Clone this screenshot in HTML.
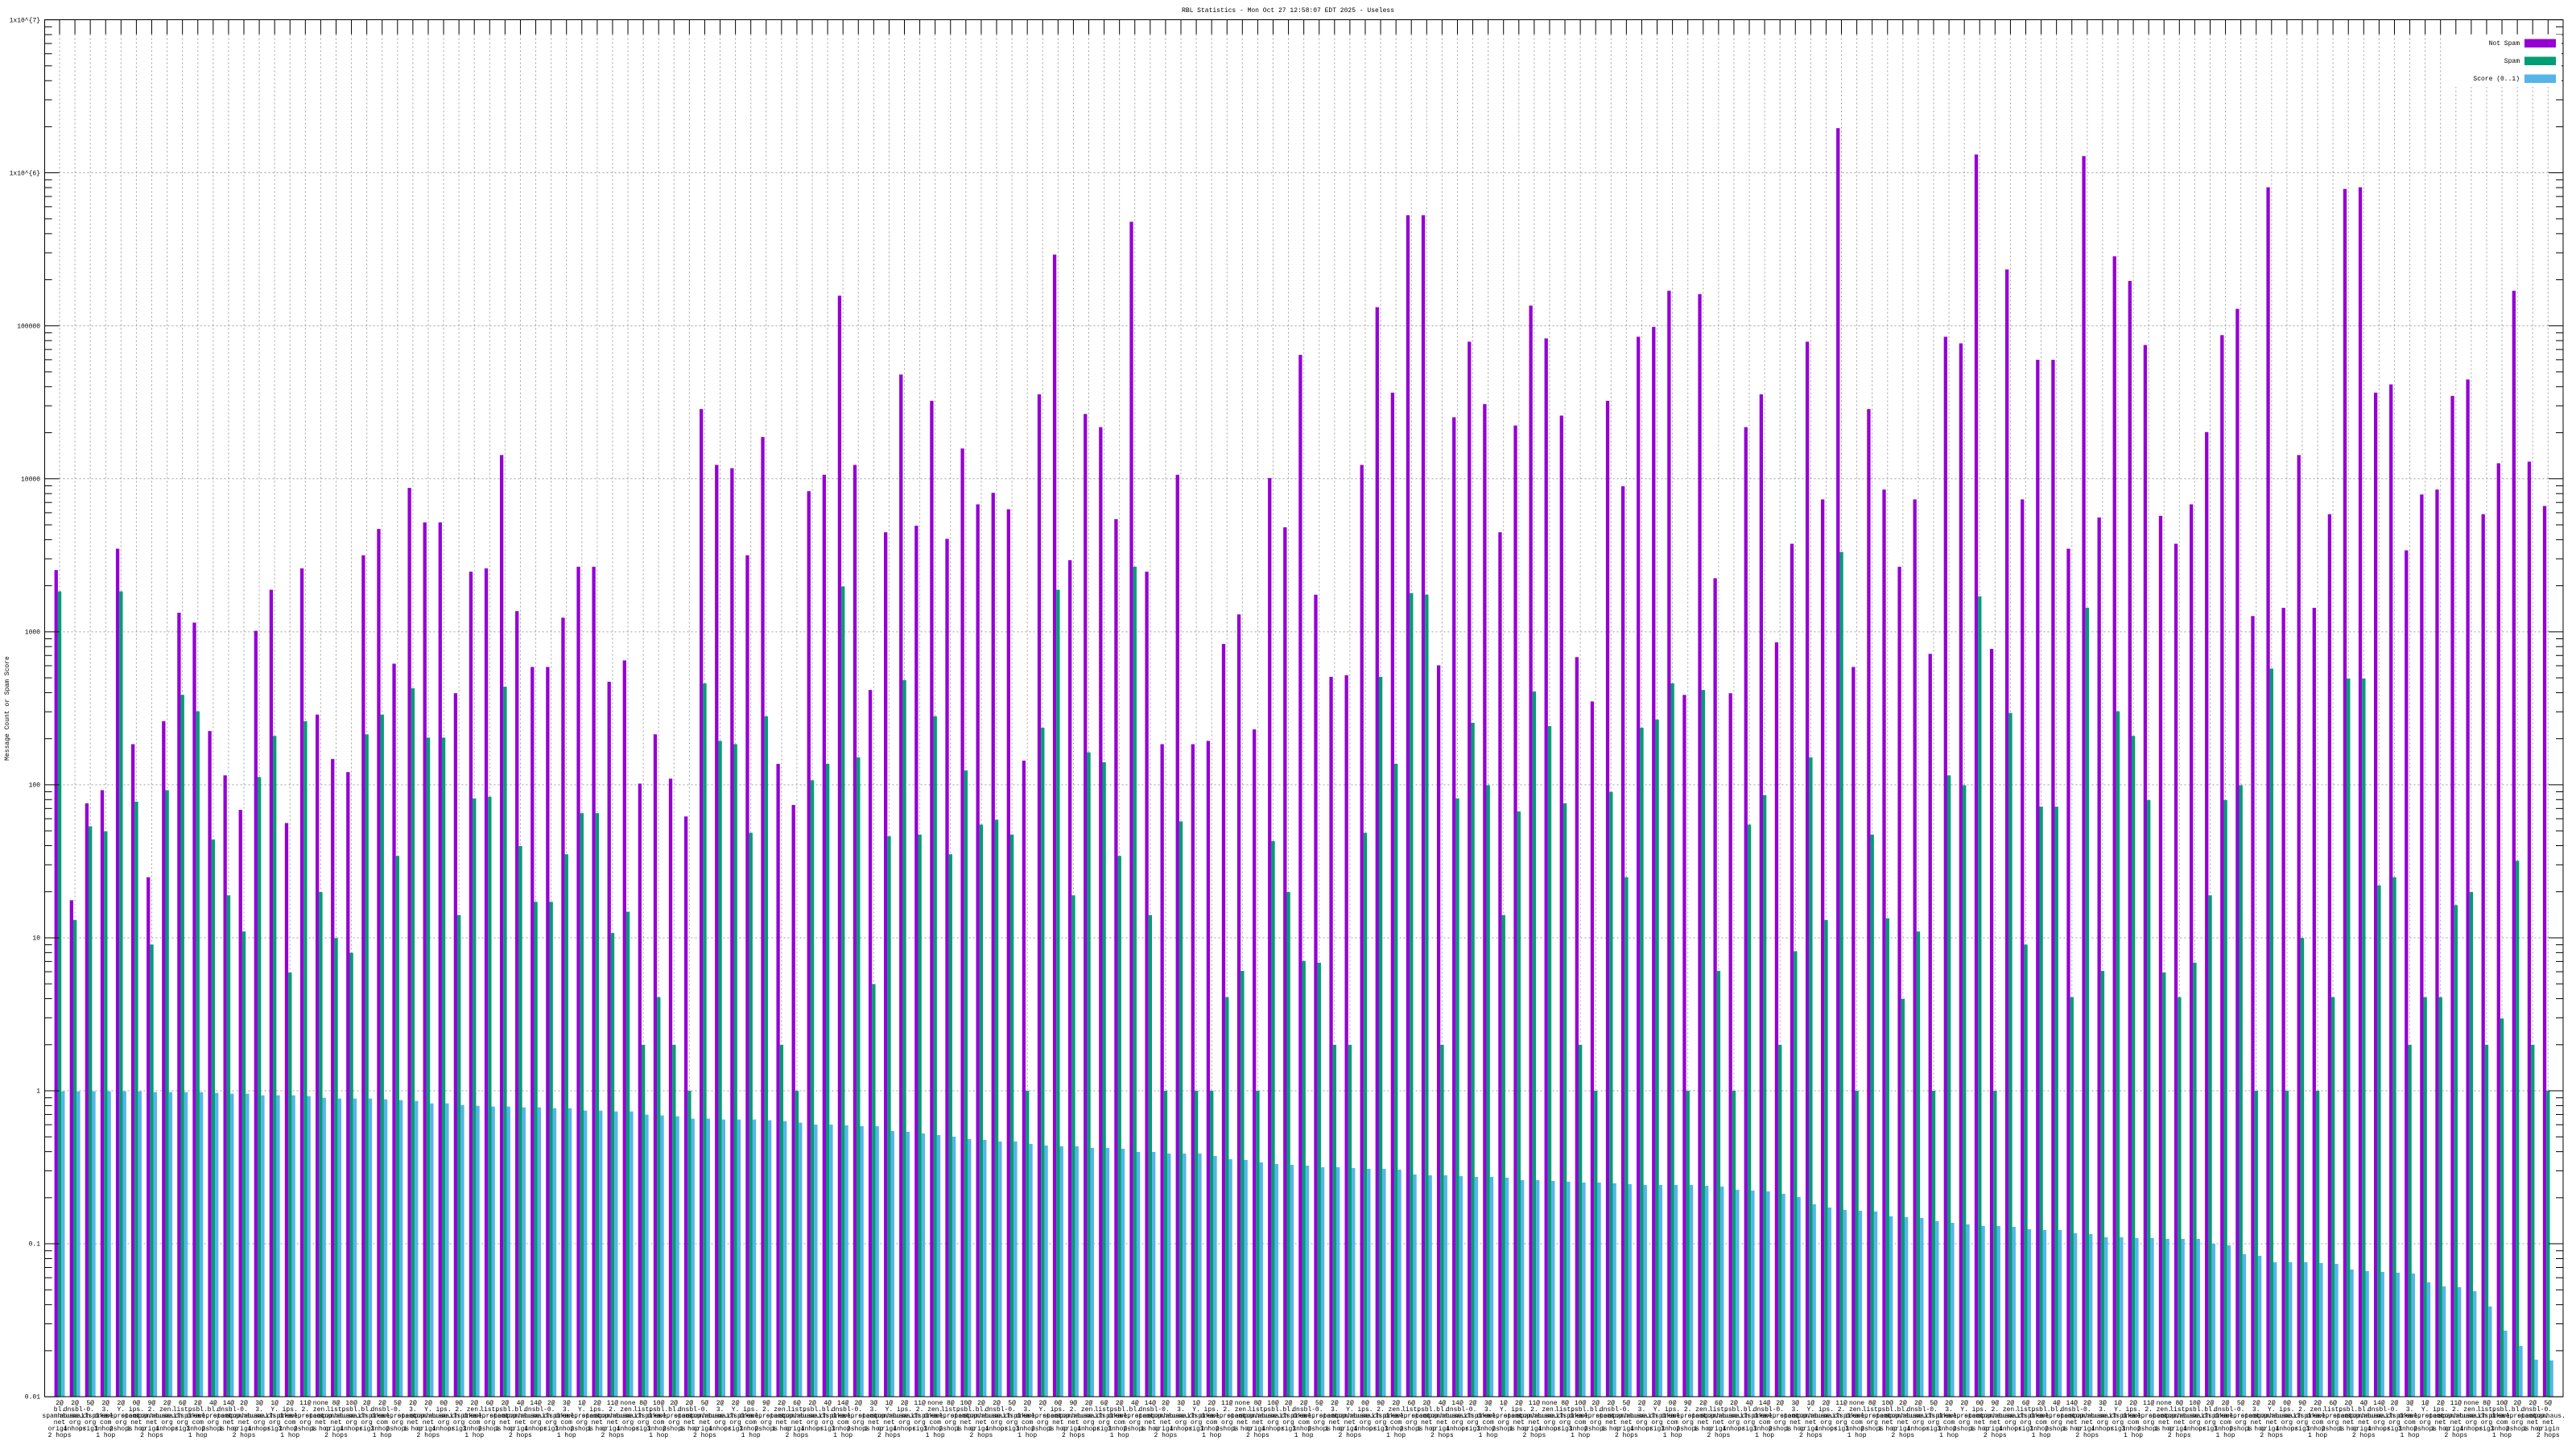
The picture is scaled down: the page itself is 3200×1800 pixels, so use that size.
<!DOCTYPE html>
<html><head><meta charset="utf-8"><style>
html,body{margin:0;padding:0;background:#fff;}
svg{display:block;}
text{font-family:"Liberation Mono","DejaVu Sans Mono",monospace;font-size:8px;fill:#000;}
</style></head><body>
<svg id="s" width="3200" height="1800" viewBox="0 0 3200 1800" xmlns="http://www.w3.org/2000/svg">
<rect width="3200" height="1800" fill="#fff"/>
<g id="grid"></g>
<g id="bars"></g>
<g id="ticks"></g>
<rect x="55.5" y="24.5" width="3128.5" height="1710.5" fill="none" stroke="#000" stroke-width="1"/>
<text x="1600" y="15" text-anchor="middle">RBL Statistics - Mon Oct 27 12:58:07 EDT 2025 - Useless</text>
<g text-anchor="end">
<text x="50" y="27.5">1x10^{7}</text>
<text x="50" y="217.5">1x10^{6}</text>
<text x="50" y="407.5">100000</text>
<text x="50" y="597.5">10000</text>
<text x="50" y="787.5">1000</text>
<text x="50" y="977.5">100</text>
<text x="50" y="1167.5">10</text>
<text x="50" y="1357.5">1</text>
<text x="50" y="1547.5">0.1</text>
<text x="50" y="1737.5">0.01</text>
</g>
<text transform="translate(11,880) rotate(-90)" text-anchor="middle">Message Count or Spam Score</text>
<g id="xl"></g>
<rect x="3040" y="43" width="142" height="65" fill="#fff"/>
<g text-anchor="end">
<text x="3130" y="56">Not Spam</text>
<text x="3130" y="78">Spam</text>
<text x="3130" y="100">Score (0..1)</text>
</g>
<rect x="3136" y="48.5" width="39" height="10.5" fill="#9400d3"/>
<rect x="3136" y="70.5" width="39" height="10.5" fill="#009e73"/>
<rect x="3136" y="92.5" width="39" height="10.5" fill="#56b4e9"/>
</svg>
<script>
var NS="http://www.w3.org/2000/svg";
function el(p,t,a,txt){var e=document.createElementNS(NS,t);for(var k in a)e.setAttribute(k,a[k]);if(txt!=null)e.textContent=txt;p.appendChild(e);return e;}
var L=55.5,R=3184,T=24.5,B=1735,D=190.06;
function yv(v){return 1355-Math.log10(v)*D;}
var grid=document.getElementById('grid'),bars=document.getElementById('bars'),ticks=document.getElementById('ticks'),xl=document.getElementById('xl');
var N=163,S=19.082,X0=74;
for(var d=-1;d<=6;d++){var y=yv(Math.pow(10,d));el(grid,'line',{x1:L+18,x2:R-18,y1:y,y2:y,stroke:'#a0a0a0','stroke-dasharray':'2,3','stroke-width':1});}
for(var i=0;i<N;i++){var x=X0+S*i;el(grid,'line',{x1:x,x2:x,y1:T+18,y2:B,stroke:'#a0a0a0','stroke-dasharray':'2,3','stroke-width':1});
 el(ticks,'line',{x1:x,x2:x,y1:T,y2:T+18,stroke:'#000','stroke-width':1});}
for(var d=-2;d<=7;d++){var y=yv(Math.pow(10,d));
 el(ticks,'line',{x1:L,x2:L+18,y1:y,y2:y,stroke:'#000'});el(ticks,'line',{x1:R-18,x2:R,y1:y,y2:y,stroke:'#000'});
 if(d<7)for(var k=2;k<=9;k++){var yy=yv(Math.pow(10,d)*k);el(ticks,'line',{x1:L,x2:L+9,y1:yy,y2:yy,stroke:'#000'});el(ticks,'line',{x1:R-9,x2:R,y1:yy,y2:yy,stroke:'#000'});}}
var P=[347,548,489,481,334,453,534,439,373,379,445,472,493,384,359,501,346,435,462,470,338,322,404,297,318,318,422,348,346,277,372,406,406,376,345,345,415,402,477,447,474,497,249,283,285,338,266,465,490,299,289,180,283,420,324,228,320,244,328,273,307,300,310,463,240,155,341,252,260,316,135,348,453,289,453,451,392,374,444,291,321,216,362,412,411,283,187,239,131,131,405,254,208,246,324,259,186,206,253,400,427,244,296,205,199,177,423,179,352,422,260,240,391,331,208,304,78,406,249,298,345,304,398,205,209,94,395,164,304,219,219,334,95,315,156,171,210,314,331,307,263,204,188,375,114,370,277,370,313,115,114,239,234,335,301,298,241,231,313,282,177,281,308];
var G=[360,560,503,506,360,488,575,481,423,433,511,545,567,473,448,592,439,543,571,580,447,435,521,419,449,449,557,486,485,418,515,549,549,520,495,495,568,555,636,607,636,664,416,451,453,507,436,636,664,475,465,357,461,599,509,414,508,436,520,469,502,499,508,664,443,359,545,458,464,521,345,557,664,500,664,664,607,591,664,512,543,585,586,636,636,507,412,465,361,362,636,486,440,478,557,494,421,442,489,636,664,482,534,443,438,416,664,420,591,664,502,484,636,579,461,560,336,664,508,559,608,567,664,472,478,363,664,434,575,491,491,607,370,591,433,448,487,592,607,586,545,487,478,664,407,664,571,664,607,413,413,539,534,636,607,607,551,543,636,620,524,636,664];
var BA=[47,47,47,47,47,47,50,50,50,50,53,56,56,62,62,62,65,71,74,74,74,77,80,83,92,92,98,101,104,104,107,107,110,110,119,119,122,122,134,137,140,149,149,152,152,152,155,158,164];
var BB=[201,201,204,207,207,225,228,234,240,246,255,258,264,264,273,279,282,282,288,288,291,303,303,309,309,309,318,330,333,342,348,351,354,360,360,363,366,366,369,387,390,390,393,396,396,399,408,408,411,414,417,417,420,423,426,426,426,426,429,432,444,447,450,459,471,498,510,519,522,525,543,546,549,561,567,573,579,579,582,591,594,594,606,609,621,621,624,624,627,627,627,645,651,684];
var BC=[1560,1568,1568,1568,1569,1570,1577,1579,1580,1581,1582,1593,1598,1599,1604,1623,1653,1672,1689,1690];
var BL=[];BA.forEach(function(v){BL.push(1340+v/3);});BB.forEach(function(v){BL.push(1330+v/3);});BC.forEach(function(v){BL.push(v);});
function ds(v){return 24.5+(v-12)*2.0407;}
var bw=4.3;
var l1=["2@","2@","9@","2@","2@","2@","8@","2@","2@","2@","4@","3@","11@","10@","5@","0@","6@","14@","1@","none"];
var l2=["bl.","zen.","Y.","dnsbl-","list.","ips.","0.","psbl.","2.","3."];
var l3=["spamhaus.","spamcop.","uceprotect","dnswl.","mailspike","abuse.ch"];
var l4=["net","org","org","com","org","net"];
var l5=["origin","1 hop","2 hops","3 hops","origin","4 hops"];
for(var i=0;i<N;i++){var x=X0+S*i;
 var yp=ds(P[i]),yg=ds(G[i]),yb=BL[i]||1690;
 el(bars,'rect',{x:x-6.4,y:yp,width:bw,height:B-yp,fill:'#9400d3'});
 el(bars,'rect',{x:x-2.1,y:yg,width:bw,height:B-yg,fill:'#009e73'});
 el(bars,'rect',{x:x+2.2,y:yb,width:bw,height:B-yb,fill:'#56b4e9'});
 var a={x:x,'text-anchor':'middle'};
 var lines=[l1[(i*7)%l1.length],l2[(i*3)%l2.length],l3[(i*5)%l3.length],l4[i%l4.length],l5[(i*11)%l5.length]];
 for(var j=0;j<lines.length;j++){a.y=1745+8*j;el(xl,'text',a,lines[j]);}
 if(i%3==0){a.y=1785;el(xl,'text',a,(i%2?"1 hop":"2 hops"));}
}
</script>
</body></html>
